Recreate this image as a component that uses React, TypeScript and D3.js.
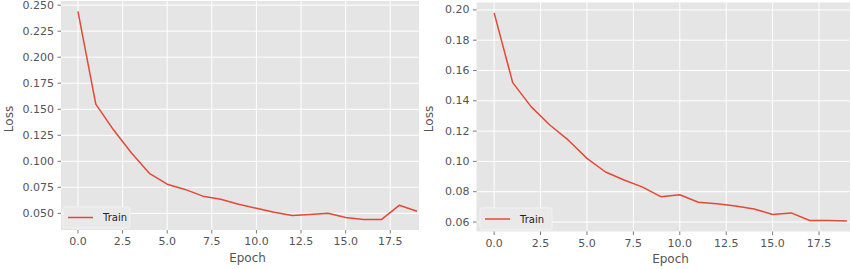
import React from "react";
import * as d3 from "d3";

// epochs 0..19
const epochs = d3.range(20);

// left run, training loss per epoch
const lossA = [0.244, 0.155, 0.130, 0.108, 0.0885, 0.078, 0.073, 0.0665, 0.0635, 0.0587, 0.0548, 0.051, 0.048, 0.049, 0.050, 0.046, 0.044, 0.044, 0.0577, 0.052];
// right run, training loss per epoch
const lossB = [0.198, 0.152, 0.136, 0.124, 0.114, 0.102, 0.093, 0.0877, 0.083, 0.0766, 0.078, 0.073, 0.072, 0.0706, 0.0686, 0.065, 0.066, 0.061, 0.061, 0.0606];

const xTicks = [0, 2.5, 5, 7.5, 10, 12.5, 15, 17.5];
const yTicksA = [0.05, 0.075, 0.1, 0.125, 0.15, 0.175, 0.2, 0.225, 0.25];
const yTicksB = [0.06, 0.08, 0.1, 0.12, 0.14, 0.16, 0.18, 0.2];

const BG = "#E5E5E5";
const RED = "#E24A33";
const GREY = "#555555";
const FONT = "DejaVu Sans, sans-serif";

// matplotlib-style 5% margins around the data
const padded = (vals: number[]): [number, number] => {
  const [lo, hi] = d3.extent(vals) as [number, number];
  const m = (hi - lo) * 0.05;
  return [lo - m, hi + m];
};

type PanelProps = {
  id: string;
  values: number[];
  yTicks: number[];
  yFmt: string;
  box: { x0: number; x1: number; y0: number; y1: number };
  clip: { left: number; right: number };
  loss: { x: number; y: number };
  epochY: number;
  legend: { x: number; y: number; w: number; h: number };
};

const Panel = ({ id, values, yTicks, yFmt, box, clip, loss, epochY, legend }: PanelProps) => {
  const x = d3.scaleLinear().domain(padded(epochs)).range([box.x0, box.x1]);
  const y = d3.scaleLinear().domain(padded(values)).range([box.y1, box.y0]);
  const line = d3.line<number>().x((_, i) => x(epochs[i])).y(d => y(d));
  const fy = d3.format(yFmt);
  const fx = d3.format(".1f");

  return (
    <g>
      <defs>
        <clipPath id={id}>
          <rect x={clip.left} y={0} width={clip.right - clip.left} height={269} />
        </clipPath>
      </defs>
      <g clipPath={`url(#${id})`}>
        <rect x={box.x0} y={box.y0} width={box.x1 - box.x0} height={box.y1 - box.y0} fill={BG} />
        {yTicks.map(t => (
          <line key={"gy" + t} x1={box.x0} x2={box.x1} y1={y(t)} y2={y(t)} stroke="#fff" strokeWidth={1} />
        ))}
        {xTicks.map(t => (
          <line key={"gx" + t} x1={x(t)} x2={x(t)} y1={box.y0} y2={box.y1} stroke="#fff" strokeWidth={1} />
        ))}
        <path d={line(values) ?? ""} fill="none" stroke={RED} strokeWidth={1.5} strokeLinejoin="round" />
        <rect x={legend.x} y={legend.y} width={legend.w} height={legend.h} rx={2} fill="#E9E9E9" stroke="#F2F2F2" strokeWidth={1} />
        <line x1={legend.x + 5} x2={legend.x + 30} y1={legend.y + legend.h / 2} y2={legend.y + legend.h / 2} stroke={RED} strokeWidth={1.5} />
        <text x={legend.x + 40} y={legend.y + legend.h / 2} dy="0.35em" fontSize={10} fill="#222" fontFamily={FONT}>Train</text>
        {yTicks.map(t => (
          <g key={"ty" + t}>
            <line x1={box.x0 - 3.5} x2={box.x0} y1={y(t)} y2={y(t)} stroke={GREY} strokeWidth={0.8} />
            <text x={box.x0 - 7} y={y(t)} dy="0.32em" textAnchor="end" fontSize={11} fill={GREY} fontFamily={FONT}>{fy(t)}</text>
          </g>
        ))}
        {xTicks.map(t => (
          <g key={"tx" + t}>
            <line x1={x(t)} x2={x(t)} y1={box.y1} y2={box.y1 + 3.5} stroke={GREY} strokeWidth={0.8} />
            <text x={x(t)} y={box.y1 + 7} dy="0.76em" textAnchor="middle" fontSize={11} fill={GREY} fontFamily={FONT}>{fx(t)}</text>
          </g>
        ))}
        <text x={(box.x0 + box.x1) / 2} y={epochY} textAnchor="middle" fontSize={12} fill={GREY} fontFamily={FONT}>Epoch</text>
        <text transform={`translate(${loss.x},${loss.y}) rotate(-90)`} textAnchor="middle" fontSize={12} fill={GREY} fontFamily={FONT}>Loss</text>
      </g>
    </g>
  );
};

export default function App() {
  return (
    <svg width={851} height={269} style={{ position: "absolute", left: 0, top: 0, background: "#fff" }}>
      <Panel
        id="clipA"
        values={lossA}
        yTicks={yTicksA}
        yFmt=".3f"
        box={{ x0: 61, x1: 434, y0: 1, y1: 230 }}
        clip={{ left: 0, right: 419 }}
        loss={{ x: 13, y: 119 }}
        epochY={262}
        legend={{ x: 63, y: 207, w: 67, h: 21 }}
      />
      <Panel
        id="clipB"
        values={lossB}
        yTicks={yTicksB}
        yFmt=".2f"
        box={{ x0: 476.5, x1: 864.5, y0: 2.5, y1: 231.5 }}
        clip={{ left: 420, right: 850 }}
        loss={{ x: 433, y: 119 }}
        epochY={263}
        legend={{ x: 480, y: 208, w: 72, h: 22 }}
      />
    </svg>
  );
}
